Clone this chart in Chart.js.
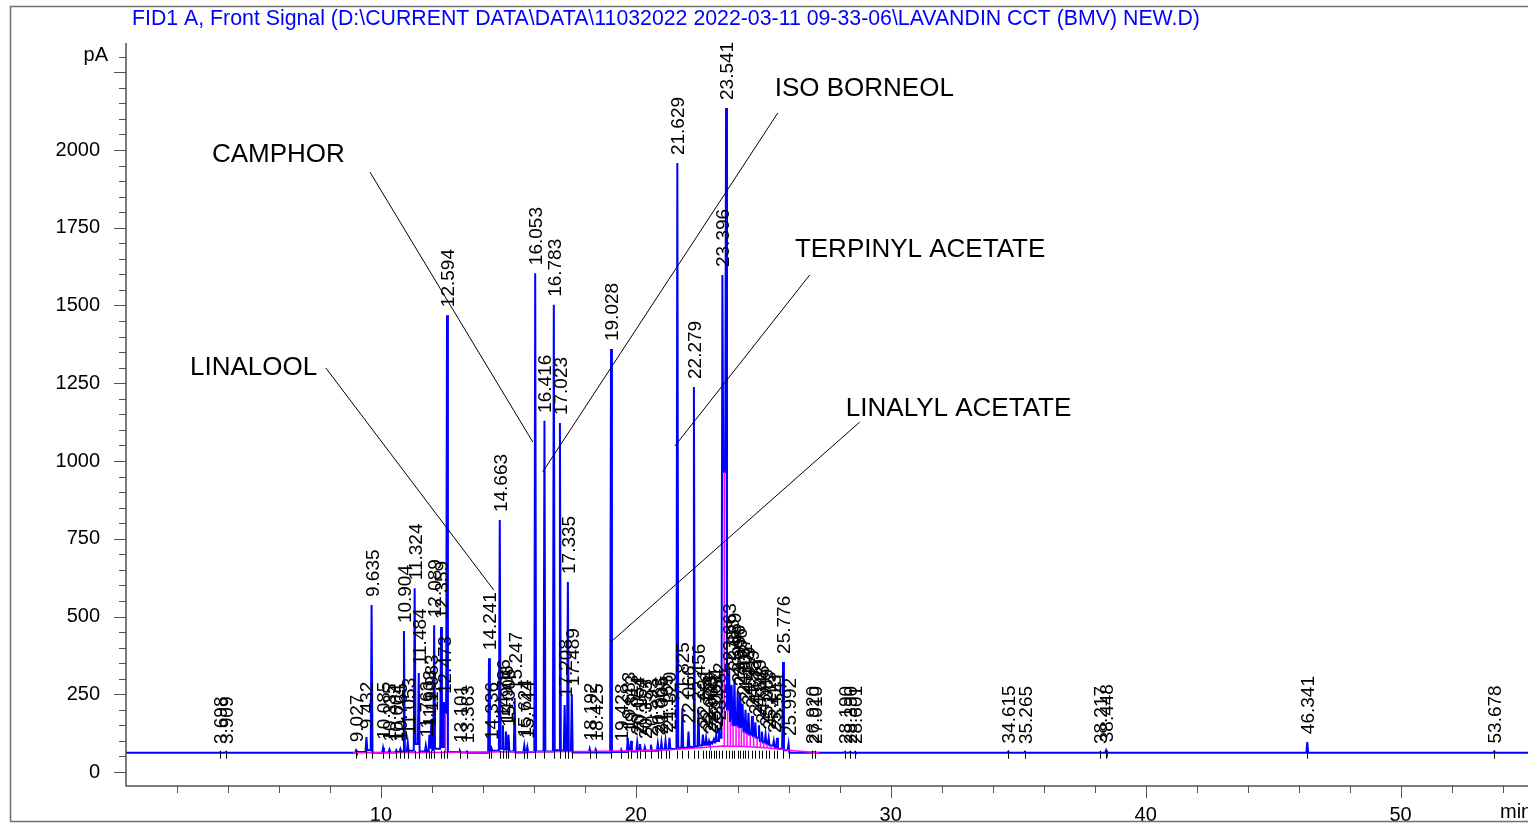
<!DOCTYPE html>
<html>
<head>
<meta charset="utf-8">
<script src="https://cdn.jsdelivr.net/npm/chart.js@4.4.1/dist/chart.umd.min.js"></script>
<style>
  html, body { margin: 0; padding: 0; background: #fff; overflow: hidden; }
  canvas { display: block; }
</style>
</head>
<body>
<canvas id="chrom" width="1528" height="823"></canvas>
<script>
// Titolo del segnale
const signalTitle = 'FID1 A, Front Signal (D:\\CURRENT DATA\\DATA\\11032022 2022-03-11 09-33-06\\LAVANDIN CCT (BMV) NEW.D)';

// Tempi di ritenzione (min) dei picchi integrati
const peakTimes = [
  3.698, 3.909, 9.027, 9.432, 9.635, 10.085, 10.335, 10.604, 10.765, 10.904,
  11.053, 11.324, 11.484, 11.763, 11.903, 11.983, 12.089, 12.359, 12.473, 12.594,
  13.101, 13.363, 14.241, 14.336, 14.663, 14.786, 14.906, 15.005, 15.247, 15.624,
  15.744, 16.053, 16.416, 16.783, 17.023, 17.208, 17.335, 17.489, 18.192, 18.425,
  19.028, 19.428, 19.683, 19.813, 20.054, 20.164, 20.353, 20.593, 20.863, 21.005,
  21.165, 21.320, 21.629, 21.825, 22.066, 22.279, 22.456, 22.631, 22.758, 22.873,
  22.968, 23.061, 23.154, 23.262, 23.396, 23.541, 23.663, 23.758, 23.869, 23.996,
  24.096, 24.187, 24.302, 24.419, 24.559, 24.687, 24.829, 24.946, 25.089, 25.213,
  25.413, 25.541, 25.776, 25.992, 26.920, 27.010, 28.190, 28.390, 28.601, 34.615,
  35.265, 38.217, 38.448, 46.341, 53.678
];

// Altezza all'apice (pA)
const peakHeights = [
  64, 64, 70, 112, 537, 78, 72, 70, 74, 453,
  95, 591, 318, 85, 120, 170, 472, 466, 225, 1469,
  68, 66, 366, 77, 810, 150, 130, 120, 238, 85,
  80, 1604, 1129, 1502, 1122, 215, 611, 250, 75, 72,
  1360, 72, 110, 100, 95, 90, 80, 88, 92, 96,
  100, 110, 1958, 205, 130, 1238, 200, 120, 110, 100,
  95, 105, 120, 140, 1598, 2135, 330, 280, 300, 260,
  250, 220, 200, 190, 180, 160, 150, 130, 120, 110,
  100, 110, 354, 90, 64, 64, 64, 64, 64, 66,
  64, 64, 70, 96, 66
];

// Livello del segnale nella valle prima di ogni picco (pA)
const valleyBefore = [
  62, 62, 62, 64, 70, 62, 63, 63, 64, 66,
  66, 68, 90, 66, 66, 75, 70, 75, 80, 190,
  64, 63, 62, 68, 68, 75, 72, 72, 66, 63,
  63, 64, 66, 66, 70, 68, 70, 70, 63, 63,
  63, 64, 64, 70, 66, 70, 68, 68, 68, 70,
  72, 72, 74, 78, 78, 80, 82, 85, 88, 88,
  90, 92, 95, 100, 110, 965, 200, 160, 150, 150,
  145, 140, 130, 125, 120, 115, 110, 100, 95, 90,
  85, 80, 75, 70, 62, 62, 62, 62, 62, 62,
  62, 62, 62, 62, 62
];

// Linea di base dell'integrazione (magenta)
const baseTimes = [8.9, 12.0, 14.0, 16.0, 18.0, 20.0, 21.5, 22.5, 23.4, 24.3, 25.2, 26.2, 27.2];
const baseValues = [62, 63, 64, 65, 66, 68, 72, 78, 84, 82, 77, 68, 62];

// Linee di separazione tra picchi (magenta)
const dropTimes = [12.533, 23.468, 23.602, 23.710, 23.813, 23.932, 24.046, 24.141, 24.244, 24.360, 24.489, 24.623, 24.758, 24.887, 25.017, 25.151, 25.313];
const dropTops = [190, 965, 200, 160, 150, 150, 145, 140, 130, 125, 120, 115, 110, 100, 95, 90, 85];
const dropBases = [63, 84, 84, 84, 83, 83, 83, 82, 82, 82, 81, 81, 80, 80, 79, 79, 78];

// Etichette degli assi
const yTickValues = [0, 250, 500, 750, 1000, 1250, 1500, 1750, 2000];
const xTickValues = [10, 20, 30, 40, 50];

// Nomi dei composti e punti indicati
const compoundNames = ['CAMPHOR', 'ISO BORNEOL', 'TERPINYL ACETATE', 'LINALYL ACETATE', 'LINALOOL'];
const nameAt = [[3.37, 1984], [25.45, 2196], [26.24, 1678], [28.24, 1167], [2.51, 1299]];
const leaderFrom = [[9.57, 1929], [25.57, 2119], [26.82, 1598], [28.78, 1125], [7.84, 1299]];
const leaderTo = [[15.96, 1061], [16.35, 965], [21.53, 1048], [19.02, 418], [14.43, 585]];

const BASELINE = 62;
const HALF_WIDTH = 0.035;
const FONT = '"Liberation Sans", Arial, sans-serif';

// Costruzione del tracciato
function buildTrace() {
    const pts = [{ x: 0, y: BASELINE }];
    let prev = null;
    peakTimes.forEach((t, i) => {
        const v = valleyBefore[i];
        if (prev === null) {
            pts.push({ x: t - HALF_WIDTH, y: v });
        } else if (t - prev > 2 * HALF_WIDTH) {
            pts.push({ x: prev + HALF_WIDTH, y: v }, { x: t - HALF_WIDTH, y: v });
        } else {
            pts.push({ x: (prev + t) / 2, y: v });
        }
        pts.push({ x: t, y: peakHeights[i] });
        prev = t;
    });
    pts.push({ x: prev + HALF_WIDTH, y: BASELINE }, { x: 55, y: BASELINE });
    return pts;
}

function buildDrops() {
    const pts = [];
    dropTimes.forEach((t, i) => {
        pts.push({ x: t, y: dropBases[i] }, { x: t, y: dropTops[i] }, { x: t, y: null });
    });
    return pts;
}

// Plugin per assi, etichette e annotazioni
const chromDecor = {
    id: 'chromDecor',
    afterDatasetsDraw(chart) {
        const ctx = chart.ctx;
        const xs = chart.scales.x, ys = chart.scales.y;
        const area = chart.chartArea;
        ctx.save();

        // segni dei picchi sotto la linea di base
        ctx.strokeStyle = '#000';
        ctx.lineWidth = 1;
        const yb = ys.getPixelForValue(BASELINE);
        peakTimes.forEach(t => {
            const px = Math.round(xs.getPixelForValue(t)) + 0.5;
            ctx.beginPath();
            ctx.moveTo(px, yb - 2);
            ctx.lineTo(px, yb + 6);
            ctx.stroke();
        });

        // etichette dei tempi di ritenzione
        ctx.fillStyle = '#000';
        ctx.font = '19px ' + FONT;
        ctx.textAlign = 'left';
        ctx.textBaseline = 'alphabetic';
        peakTimes.forEach((t, i) => {
            const px = xs.getPixelForValue(t);
            const py = ys.getPixelForValue(peakHeights[i]);
            ctx.save();
            ctx.translate(px, py - 8);
            ctx.rotate(-Math.PI / 2);
            ctx.fillText(t.toFixed(3), 0, 7);
            ctx.restore();
        });

        // linee guida e nomi dei composti
        ctx.strokeStyle = '#000';
        ctx.lineWidth = 1;
        compoundNames.forEach((name, i) => {
            ctx.beginPath();
            ctx.moveTo(xs.getPixelForValue(leaderFrom[i][0]), ys.getPixelForValue(leaderFrom[i][1]));
            ctx.lineTo(xs.getPixelForValue(leaderTo[i][0]), ys.getPixelForValue(leaderTo[i][1]));
            ctx.stroke();
        });
        ctx.font = '26px ' + FONT;
        ctx.textBaseline = 'middle';
        compoundNames.forEach((name, i) => {
            ctx.fillText(name, xs.getPixelForValue(nameAt[i][0]), ys.getPixelForValue(nameAt[i][1]));
        });

        // assi
        ctx.strokeStyle = '#505050';
        ctx.lineWidth = 1.5;
        ctx.beginPath();
        ctx.moveTo(area.left, area.top);
        ctx.lineTo(area.left, area.bottom);
        ctx.lineTo(area.right, area.bottom);
        ctx.stroke();

        ctx.lineWidth = 1;
        for (let v = 0; v <= 2300; v += 50) {
            const py = Math.round(ys.getPixelForValue(v)) + 0.5;
            const len = v % 250 === 0 ? 12 : 7;
            ctx.beginPath();
            ctx.moveTo(area.left - len, py);
            ctx.lineTo(area.left, py);
            ctx.stroke();
        }
        for (let v = 2; v <= 54; v += 2) {
            const px = Math.round(xs.getPixelForValue(v)) + 0.5;
            const len = v % 10 === 0 ? 12 : 7;
            ctx.beginPath();
            ctx.moveTo(px, area.bottom);
            ctx.lineTo(px, area.bottom + len);
            ctx.stroke();
        }

        ctx.fillStyle = '#000';
        ctx.font = '20px ' + FONT;
        ctx.textAlign = 'right';
        ctx.fillText('pA', area.left - 18, ys.getPixelForValue(2300) - 1);
        ctx.textAlign = 'left';
        ctx.fillText('min', 1500, area.bottom + 26);

        // titolo
        ctx.fillStyle = '#0000ff';
        ctx.font = '21.3px ' + FONT;
        ctx.textBaseline = 'middle';
        ctx.fillText(signalTitle, 132, 19);

        // cornice
        ctx.strokeStyle = '#707070';
        ctx.lineWidth = 1.5;
        ctx.strokeRect(10.5, 6.5, 1600, 815);
        ctx.restore();
    }
};

function createChromatogram(canvasId) {
    const ctx = document.getElementById(canvasId);
    if (!ctx) return;

    Chart.defaults.font.family = FONT;
    Chart.defaults.color = '#000';

    new Chart(ctx, {
        type: 'scatter',
        data: {
            datasets: [{
                label: 'Baseline',
                data: baseTimes.map((t, i) => ({ x: t, y: baseValues[i] })),
                showLine: true,
                borderColor: '#ff00ff',
                borderWidth: 1.5,
                pointRadius: 0,
                order: 0
            }, {
                label: 'Drop lines',
                data: buildDrops(),
                showLine: true,
                spanGaps: false,
                borderColor: '#ff00ff',
                borderWidth: 1.5,
                pointRadius: 0,
                order: 1
            }, {
                label: 'FID1 A',
                data: buildTrace(),
                showLine: true,
                borderColor: '#0000ff',
                borderWidth: 2,
                pointRadius: 0,
                tension: 0,
                order: 2
            }]
        },
        options: {
            responsive: false,
            animation: false,
            events: [],
            layout: { padding: { top: 43, right: 0, left: 0, bottom: 0 } },
            plugins: { legend: { display: false }, tooltip: { enabled: false } },
            scales: {
                x: {
                    type: 'linear',
                    min: 0,
                    max: 55,
                    grid: { display: false },
                    border: { display: false },
                    ticks: { padding: 9, maxRotation: 0, font: { size: 20 }, callback: v => String(v) },
                    afterBuildTicks: s => { s.ticks = xTickValues.map(v => ({ value: v })); },
                    afterFit: s => { s.height = 37; s.paddingLeft = 0; s.paddingRight = 0; }
                },
                y: {
                    min: -45,
                    max: 2344,
                    grid: { display: false },
                    border: { display: false },
                    ticks: { padding: 18, font: { size: 20 }, callback: v => String(v) },
                    afterBuildTicks: s => { s.ticks = yTickValues.map(v => ({ value: v })); },
                    afterFit: s => { s.width = 126; s.paddingTop = 0; s.paddingBottom = 0; }
                }
            }
        },
        plugins: [chromDecor]
    });
}

createChromatogram('chrom');
</script>
</body>
</html>
